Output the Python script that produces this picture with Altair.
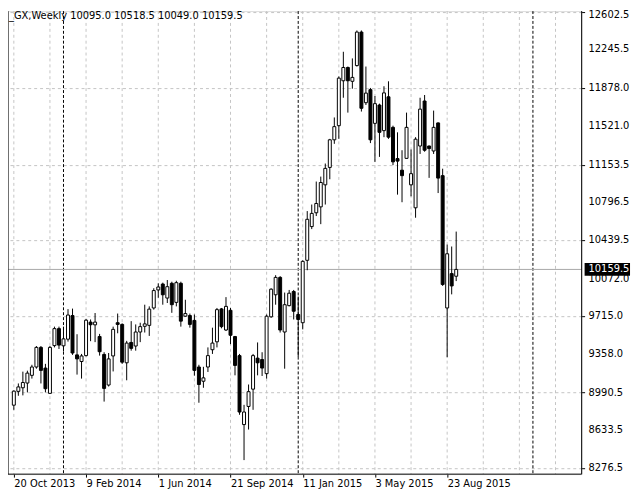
import altair as alt
import pandas as pd

header_text = "_GX,Weekly  10095.0 10518.5 10049.0 10159.5"
first_week = "2013-10-20"

opens = [8872, 9003, 9037, 9082, 9155, 9234, 9420, 9224, 8984, 9437,
         9598, 9435, 9498, 9722, 9349, 9286, 9342, 9660, 9634, 9523,
         9353, 9063, 9339, 9654, 9638, 9274, 9467, 9433, 9566, 9620,
         9629, 9794, 9965, 10021, 9888, 10028, 9847, 10028, 9716, 9722,
         9676, 9234, 9099, 9234, 9398, 9473, 9785, 9585, 9772, 9523,
         9342, 8688, 8860, 9024, 9318, 9305, 9171, 9710, 9919, 10084,
         9566, 9816, 9950, 9732, 9654, 10246, 10566, 10697, 10753, 10962,
         11127, 11389, 11523, 11949, 12075, 11944, 12093, 12411, 11741, 11865,
         11545, 11719, 11476, 11797, 11507, 11211, 11101, 11213, 10962, 10744,
         11330, 11757, 11330, 11283, 11549, 11049, 9794, 10120, 10095.0]
highs = [9012, 9078, 9190, 9199, 9255, 9433, 9433, 9264, 9433, 9617,
         9617, 9617, 9783, 9788, 9545, 9358, 9691, 9685, 9746, 9548,
         9374, 9367, 9617, 9741, 9648, 9482, 9669, 9638, 9654, 9825,
         9809, 9981, 10028, 10034, 10059, 10043, 10052, 10043, 9872, 9741,
         9732, 9255, 9236, 9420, 9607, 9794, 9794, 9897, 9794, 9529,
         9358, 8875, 9068, 9358, 9467, 9374, 9732, 9981, 10105, 10096,
         9940, 9965, 9965, 9903, 10246, 10713, 10775, 10993, 11040, 11164,
         11398, 11601, 11990, 12224, 12084, 12161, 12426, 12426, 12084, 11881,
         11804, 11732, 11897, 11944, 11523, 11460, 11290, 11647, 11297, 11414,
         11788, 11814, 11334, 11666, 11554, 11115, 10395, 10377, 10518.5]
lows = [8828, 8961, 8965, 8993, 9124, 9218, 9078, 8993, 8980, 9420,
        9405, 9381, 9475, 9349, 9162, 9124, 9335, 9479, 9470, 9342,
        8906, 9049, 9192, 9554, 9264, 9108, 9389, 9389, 9470, 9561,
        9529, 9778, 9891, 9825, 9841, 9748, 9809, 9617, 9710, 9607,
        9152, 8895, 9037, 9187, 9358, 9420, 9601, 9576, 9451, 9155,
        8781, 8351, 8641, 8828, 9155, 9149, 9124, 9701, 9825, 9561,
        9218, 9809, 9685, 9330, 9591, 10152, 10542, 10666, 10589, 10775,
        11015, 11351, 11398, 11788, 11647, 11874, 12084, 11657, 11719, 11358,
        11180, 11227, 11414, 11398, 11149, 10869, 10797, 11211, 10853, 10650,
        11255, 11276, 11028, 11255, 10884, 10003, 9327, 9923, 10049.0]
closes = [9005, 9045, 9087, 9176, 9234, 9420, 9202, 9028, 9420, 9598,
          9442, 9501, 9727, 9367, 9311, 9339, 9678, 9635, 9660, 9379,
          9031, 9311, 9591, 9638, 9280, 9461, 9411, 9566, 9617, 9643,
          9783, 9959, 9993, 9919, 9996, 9825, 10034, 9669, 9741, 9638,
          9202, 9068, 9131, 9342, 9461, 9778, 9617, 9809, 9535, 9249,
          8807, 8807, 9000, 9342, 9274, 9224, 9716, 9972, 10084, 9585,
          9825, 9934, 9763, 9685, 10236, 10635, 10691, 10785, 10984, 11118,
          11389, 11514, 11974, 12075, 11949, 11981, 12411, 11688, 11832, 11389,
          11732, 11460, 11834, 11414, 11180, 11187, 11049, 11507, 11068, 11395,
          11680, 11290, 11306, 11507, 11026, 10017, 10308, 10003, 10159.5]

label_dates = ["2013-10-20", "2014-02-09", "2014-06-01", "2014-09-21",
               "2015-01-11", "2015-05-03", "2015-08-23"]
separator_dates = ["2014-01-05", "2015-01-04", "2016-01-03"]
price_ticks = [12602.5, 12245.5, 11878.0, 11521.0, 11153.5, 10796.5, 10439.5,
               10072.0, 9715.0, 9358.0, 8990.5, 8633.5, 8276.5]
last_price = 10159.5

W, H = 581, 469
FONT = "DejaVu Sans"
DAY = 86400000


def ms(s):
    return int(pd.Timestamp(s, tz="UTC").value // 10**6)


dates = pd.date_range(first_week, periods=len(opens), freq="7D").strftime("%Y-%m-%d").tolist()
grid_dates = pd.date_range(first_week, periods=16, freq="56D").strftime("%Y-%m-%d").tolist()

df = pd.DataFrame({"date": dates, "open": opens, "high": highs, "low": lows, "close": closes})
ticks_df = pd.DataFrame({"price": price_ticks,
                         "label": [f"{p:.1f}" for p in price_ticks]})

x_scale = alt.Scale(type="utc", domain=[ms(first_week) - int(0.2 * 7 * DAY),
                                        ms(first_week) + int(124.7 * 7 * DAY)])
y_scale = alt.Scale(domain=[8217.8, 12610], nice=False, zero=False)

x_axis = alt.Axis(values=[ms(d) for d in label_dates], labelExpr="utcFormat(datum.value, '%-d %b %Y')",
                  grid=False, domain=False, tickColor="black", tickSize=3, labelAlign="left",
                  labelPadding=2, labelFont=FONT, labelFontSize=10, labelColor="black",
                  labelOverlap=False, title=None, labelFlush=False)
y_axis = alt.Axis(values=price_ticks, orient="right", grid=True, labels=False,
                  gridColor="#c4c4c4", gridDash=[3, 3], domain=False, tickColor="black",
                  tickSize=3, title=None)

base = alt.Chart(df)

wicks = base.mark_rule(color="black", strokeWidth=1).encode(
    x=alt.X("date:T", scale=x_scale, axis=x_axis),
    y=alt.Y("low:Q", scale=y_scale, axis=y_axis),
    y2="high:Q",
)
bodies = base.mark_bar(width=3, stroke="black", strokeWidth=1).encode(
    x="date:T",
    y="open:Q",
    y2="close:Q",
    fill=alt.condition("datum.close >= datum.open", alt.value("white"), alt.value("black")),
)

vgrid = alt.Chart(pd.DataFrame({"date": grid_dates})).mark_rule(
    color="#c4c4c4", strokeDash=[3, 3], strokeWidth=1).encode(x="date:T")
seps = alt.Chart(pd.DataFrame({"date": separator_dates})).mark_rule(
    color="black", strokeDash=[3, 2], strokeWidth=1).encode(x="date:T")

ylabels = alt.Chart(ticks_df).mark_text(align="left", baseline="middle", font=FONT,
                                        fontSize=10, color="black").encode(
    y="price:Q", x=alt.value(W + 7), text="label:N")
ylabels_main = ylabels.transform_filter(f"datum.price < {price_ticks[0]}")
ylabels_top = ylabels.transform_filter(f"datum.price >= {price_ticks[0]}").mark_text(
    align="left", baseline="middle", font=FONT, fontSize=10, color="black", dy=3)

price_line = alt.Chart().mark_rule(color="#a8a8a8", strokeWidth=1).encode(y=alt.datum(last_price))
price_box = alt.Chart().mark_rule(color="black", strokeWidth=13).encode(
    y=alt.datum(last_price), x=alt.value(W + 3), x2=alt.value(W + 49))
price_text = alt.Chart().mark_text(align="left", baseline="middle", color="white",
                                   font=FONT, fontSize=10).encode(
    y=alt.datum(last_price), x=alt.value(W + 7), text=alt.value(f"{last_price:.1f}"))

frame_l = alt.Chart().mark_rule(color="black").encode(x=alt.value(0), y=alt.value(0), y2=alt.value(H))
frame_r = alt.Chart().mark_rule(color="black").encode(x=alt.value(W), y=alt.value(0), y2=alt.value(H))
frame_b = alt.Chart().mark_rule(color="black").encode(x=alt.value(0), x2=alt.value(W), y=alt.value(H))

header = alt.Chart().mark_text(align="left", baseline="middle", font=FONT, fontSize=10,
                               color="black").encode(
    x=alt.value(1), y=alt.value(5), text=alt.value(header_text))

chart = alt.layer(vgrid, seps, price_line, wicks, bodies, ylabels_main, ylabels_top,
                  price_box, price_text, frame_l, frame_r, frame_b, header).properties(
    width=W, height=H,
    autosize=alt.AutoSizeParams(type="none"),
    padding={"left": 0, "top": 0, "right": 51, "bottom": 18},
).configure_view(stroke=None).configure(background="white")

chart.save("out.html", embed_options={"renderer": "svg", "actions": False})
